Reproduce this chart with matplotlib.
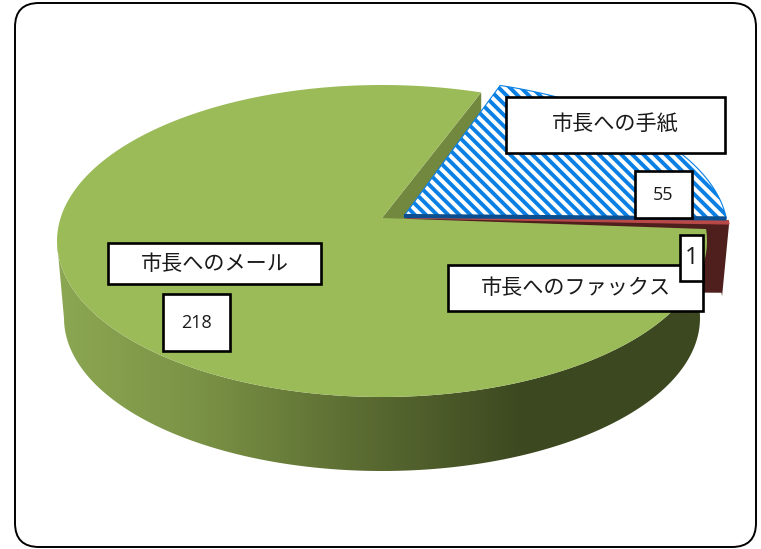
import numpy as np
import matplotlib
matplotlib.use('Agg')
import matplotlib.pyplot as plt
from matplotlib.colors import LinearSegmentedColormap
from matplotlib.patches import Polygon, FancyBboxPatch, Rectangle

categories = ['市長へのメール', '市長へのファックス', '市長への手紙']
values = [218, 1, 55]

plt.rcParams['font.family'] = ['Noto Sans CJK JP', 'DejaVu Sans']
plt.rcParams['hatch.linewidth'] = 2.8
plt.rcParams['hatch.color'] = '#0a80e4'

GREEN = '#9bbb59'
start_angle = 69.0


def rim(t, cx, cy, a, b):
    # t in degrees, the small cos term fakes the perspective of the 3d pie
    p = np.radians(t + 9 * np.cos(np.radians(t)))
    return np.column_stack([cx + a * np.cos(p), cy - b * np.sin(p)])


def box(x0, y0, x1, y1, txt, size, family=None):
    ax.add_patch(Rectangle((x0, y0), x1 - x0, y1 - y0, fc='white', ec='black', lw=1.9, zorder=10))
    ax.text((x0 + x1) / 2, (y0 + y1) / 2, txt, fontsize=size, ha='center', va='center',
            color='#1a1a1a', zorder=11, family=family or plt.rcParams['font.family'])


fig = plt.figure(figsize=(7.61, 5.49), dpi=100)
ax = fig.add_axes([0, 0, 1, 1])
ax.set_xlim(0, 761)
ax.set_ylim(549, 0)
ax.axis('off')

# frame
ax.add_patch(FancyBboxPatch((35, 23), 701, 504, boxstyle='round,pad=20,rounding_size=24',
                            fc='white', ec='black', lw=1.4, zorder=0))

# slice angles come from the values
sweep = np.array(values) / np.sum(values) * 360
g0, g1 = start_angle, start_angle + sweep[0]
r0, r1 = g1, g1 + sweep[1]
b0, b1 = r1, r1 + sweep[2]

top = (382, 241, 325, 156)
bot = (382, 318, 318, 153)
apex = (382, 218)

# inner cut face of the green slice
p = rim(g0, *top)[0]
ax.add_patch(Polygon([apex, p, (p[0], p[1] + 74), (apex[0] + 20, apex[1] + 20)], fc='#72883f', ec='none', zorder=1))

# red wall, pulled out from the pie
red_top = (405, 236, 325, 156)
red_bot = (405, 308, 318, 153)
t = np.linspace(r0, r1, 10)
pr = rim(t, *red_top)
pb = rim(t, *red_bot)
ax.add_patch(Polygon(np.vstack([[(405, 218)], pr[::-1], pb, [(600, 292)]]), fc='#4f1f1e', ec='none', zorder=2))

# green front wall with the gradient, starts at the left extreme of the ellipse
t = np.linspace(189, g1, 200)
wall = Polygon(np.vstack([rim(t, *top), rim(t, *bot)[::-1]]), fc='none', ec='none', zorder=3)
ax.add_patch(wall)
cmap = LinearSegmentedColormap.from_list('wall', [(0, '#8ca753'), (0.22, '#7a9245'), (0.45, '#5d6e33'),
                                                  (0.72, '#3c4820'), (1, '#3c4820')])
im = ax.imshow(np.linspace(0, 1, 256)[None, :], extent=(57, 708, 549, 0), cmap=cmap, aspect='auto', zorder=3)
im.set_clip_path(wall)
ax.set_xlim(0, 761)
ax.set_ylim(549, 0)

# red top
ax.add_patch(Polygon(np.vstack([[(405, 218)], pr]), fc='#b94a48', ec='#b94a48', lw=0.8, zorder=4))

# green top
t = np.linspace(g0, g1, 300)
ax.add_patch(Polygon(np.vstack([[apex], rim(t, *top)]), fc=GREEN, ec='none', zorder=5))

# blue hatched slice
blue_top = (400, 234, 328, 156)
t = np.linspace(b0, b1, 120)
pts = np.vstack([[(404, 216)], rim(t, *blue_top)])
ax.add_patch(Polygon(pts, fc='white', ec='#0a80e4', lw=0.8, hatch='\\\\\\', zorder=6))
ax.plot([404, pts[1, 0]], [216, pts[1, 1]], color='#0b4f91', lw=3, solid_capstyle='butt', zorder=7)

# labels
box(506, 97, 725, 153, categories[2], 15.2)
box(635, 171, 692, 218, str(values[2]), 13, 'Open Sans')
box(448, 265, 703, 311, categories[1], 15.2)
box(680, 235, 703, 281, str(values[1]), 17, 'Open Sans')
box(108, 243, 321, 284, categories[0], 15.2)
box(163, 294, 230, 351, str(values[0]), 13, 'Open Sans')

fig.savefig('out.png', dpi=100)
